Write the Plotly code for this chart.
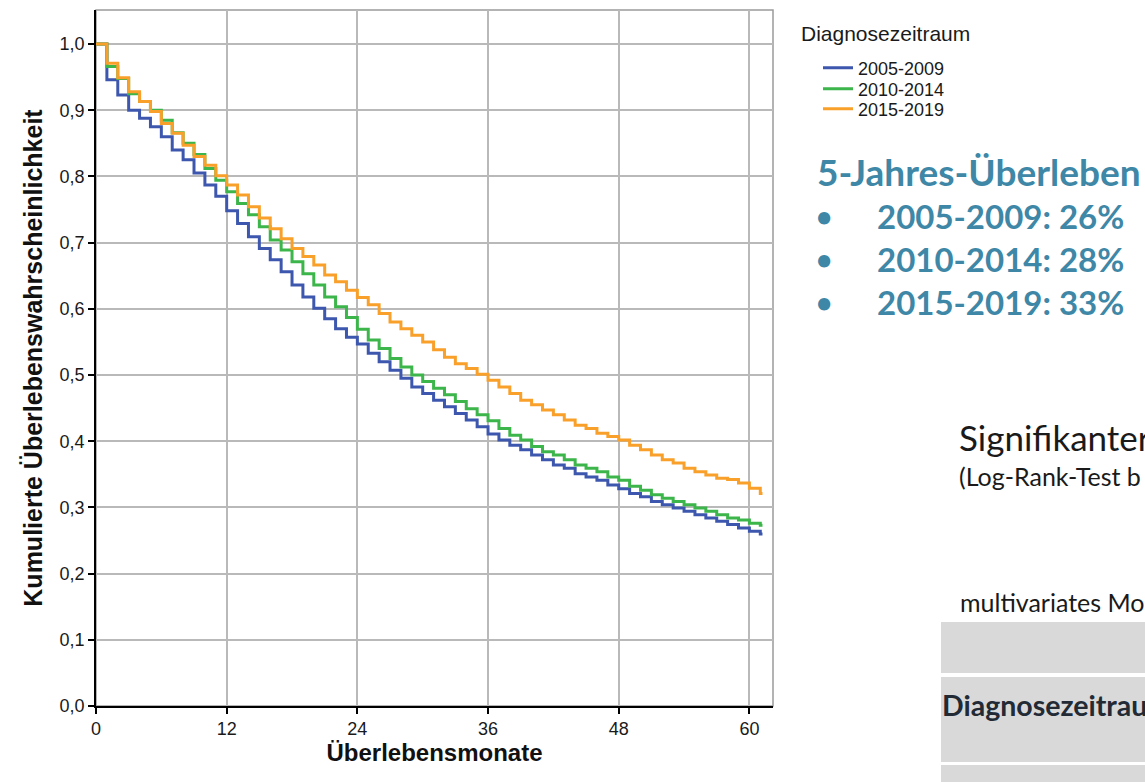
import plotly.graph_objects as go

# ---------------- data ----------------
months = list(range(62))
end_month = 61.2

surv_2005_2009 = [1.000, 0.946, 0.923, 0.900, 0.888, 0.875, 0.860, 0.840, 0.825, 0.805,
                  0.787, 0.770, 0.748, 0.729, 0.709, 0.691, 0.674, 0.656, 0.636, 0.618,
                  0.601, 0.585, 0.570, 0.557, 0.547, 0.533, 0.520, 0.507, 0.495, 0.482,
                  0.472, 0.462, 0.452, 0.442, 0.432, 0.422, 0.411, 0.402, 0.394, 0.387,
                  0.379, 0.372, 0.364, 0.359, 0.351, 0.346, 0.341, 0.334, 0.328, 0.321,
                  0.316, 0.309, 0.304, 0.299, 0.294, 0.289, 0.284, 0.279, 0.274, 0.269,
                  0.264, 0.260]
surv_2010_2014 = [1.000, 0.966, 0.948, 0.925, 0.913, 0.900, 0.885, 0.866, 0.850, 0.833,
                  0.812, 0.794, 0.777, 0.759, 0.742, 0.724, 0.704, 0.689, 0.671, 0.653,
                  0.636, 0.618, 0.603, 0.587, 0.569, 0.553, 0.540, 0.525, 0.512, 0.500,
                  0.490, 0.480, 0.470, 0.460, 0.449, 0.440, 0.431, 0.419, 0.409, 0.402,
                  0.392, 0.384, 0.379, 0.372, 0.364, 0.359, 0.354, 0.346, 0.341, 0.332,
                  0.326, 0.319, 0.314, 0.309, 0.304, 0.299, 0.294, 0.289, 0.284, 0.281,
                  0.276, 0.273]
surv_2015_2019 = [1.000, 0.971, 0.949, 0.928, 0.913, 0.898, 0.880, 0.865, 0.847, 0.830,
                  0.817, 0.801, 0.787, 0.772, 0.754, 0.737, 0.721, 0.706, 0.691, 0.679,
                  0.666, 0.651, 0.641, 0.628, 0.617, 0.606, 0.593, 0.580, 0.570, 0.560,
                  0.550, 0.538, 0.527, 0.517, 0.510, 0.501, 0.492, 0.482, 0.472, 0.462,
                  0.455, 0.447, 0.440, 0.432, 0.424, 0.419, 0.412, 0.407, 0.402, 0.394,
                  0.387, 0.379, 0.372, 0.367, 0.359, 0.354, 0.349, 0.344, 0.342, 0.337,
                  0.329, 0.321]

series_names = ["2005-2009", "2010-2014", "2015-2019"]
series_values = [surv_2005_2009, surv_2010_2014, surv_2015_2019]
series_colors = ["#3D57AE", "#3CB54A", "#F9A02A"]

x_ticks = [0, 12, 24, 36, 48, 60]
y_ticks = [0.0, 0.1, 0.2, 0.3, 0.4, 0.5, 0.6, 0.7, 0.8, 0.9, 1.0]

legend_title = "Diagnosezeitraum"
five_year_title = "5-Jahres-Überleben"
five_year_items = ["2005-2009: 26%", "2010-2014: 28%", "2015-2019: 33%"]

# ---------------- layout geometry ----------------
W_FIG, H_FIG = 1145, 782
L, R_EDGE, T, B_EDGE = 96, 773, 10, 706
PW, PH = R_EDGE - L, B_EDGE - T


def px(x):
    return (x - L) / PW


def py(y):
    return (B_EDGE - y) / PH


SANS = "Liberation Sans, Arial, sans-serif"
SLIDE = "Lato, Open Sans, sans-serif"

fig = go.Figure()
legend_ids = ["legend", "legend2", "legend3"]
for name, vals, col, lid in zip(series_names, series_values, series_colors, legend_ids):
    fig.add_trace(go.Scatter(
        x=months + [end_month], y=vals + [vals[-1]],
        mode="lines", line=dict(color=col, width=3, shape="hv"),
        name=name, legend=lid, hoverinfo="skip"))

legend_rows = [68, 89, 109]
legend_common = dict(x=px(818), xanchor="left", yanchor="middle",
                     bgcolor="rgba(0,0,0,0)", borderwidth=0,
                     font=dict(family=SANS, size=18, color="#1a1a1a"),
                     itemwidth=30)

fig.update_layout(
    width=W_FIG, height=H_FIG,
    margin=dict(l=L, r=W_FIG - R_EDGE, t=T, b=H_FIG - B_EDGE, pad=0),
    paper_bgcolor="white", plot_bgcolor="white",
    separators=", ",
    showlegend=True,
    legend=dict(y=py(legend_rows[0]), **legend_common),
    legend2=dict(y=py(legend_rows[1]), **legend_common),
    legend3=dict(y=py(legend_rows[2]), **legend_common),
    xaxis=dict(range=[0, PW / (10.89)], tickmode="array", tickvals=x_ticks,
               showgrid=True, gridcolor="#b9b9b9", gridwidth=1.5,
               zeroline=False, showline=True, linecolor="black", linewidth=1.5,
               ticks="outside", ticklen=6, tickwidth=1.5, tickcolor="black",
               tickfont=dict(family=SANS, size=18, color="#1a1a1a"),
               title=dict(text="Überlebensmonate", standoff=6,
                          font=dict(family=SANS, size=24, color="#111", weight="bold"))),
    yaxis=dict(range=[0, PH / 662], tickmode="array", tickvals=y_ticks, tickformat=".1f",
               showgrid=True, gridcolor="#b9b9b9", gridwidth=1.5,
               zeroline=False, showline=True, linecolor="black", linewidth=1.5,
               ticks="outside", ticklen=6, tickwidth=1.5, tickcolor="black",
               tickfont=dict(family=SANS, size=18, color="#1a1a1a"),
               title=dict(text="Kumulierte Überlebenswahrscheinlichkeit", standoff=10,
                          font=dict(family=SANS, size=25, color="#111", weight="bold"))),
)

# plot frame (top/right in gray)
fig.add_shape(type="rect", xref="paper", yref="paper", x0=0, y0=0, x1=1, y1=1,
              line=dict(color="#9a9a9a", width=1.5), layer="below")

# table-like grey blocks on the right
for y0, y1 in [(622, 673), (677, 762), (765, 790)]:
    fig.add_shape(type="rect", xref="paper", yref="paper",
                  x0=px(941), x1=px(1160), y0=py(y1), y1=py(y0),
                  line=dict(width=0), fillcolor="#d9d9d9", layer="below")

ann = []
ann.append(dict(text=legend_title, x=px(799), y=py(33), xanchor="left", yanchor="middle",
                font=dict(family=SANS, size=21, color="#1a1a1a")))
ann.append(dict(text=five_year_title, x=px(815), y=py(172), xanchor="left", yanchor="middle",
                font=dict(family=SLIDE, size=37, color="#3E87A6", weight="bold")))
for i, item in enumerate(five_year_items):
    yy = [216, 259, 302][i]
    ann.append(dict(text="•", x=px(814), y=py(yy), xanchor="left", yanchor="middle",
                    font=dict(family=SLIDE, size=28, color="#3E87A6", weight="bold")))
    ann.append(dict(text=item, x=px(875), y=py(yy), xanchor="left", yanchor="middle",
                    font=dict(family=SLIDE, size=33, color="#3E87A6", weight="bold")))
ann.append(dict(text="Signifikanter", x=px(957), y=py(437), xanchor="left", yanchor="middle",
                font=dict(family=SLIDE, size=35, color="#1a1a1a")))
ann.append(dict(text="(Log-Rank-Test b", x=px(957), y=py(476), xanchor="left", yanchor="middle",
                font=dict(family=SLIDE, size=25, color="#1a1a1a")))
ann.append(dict(text="multivariates Mo", x=px(958), y=py(602), xanchor="left", yanchor="middle",
                font=dict(family=SLIDE, size=25, color="#1a1a1a")))
ann.append(dict(text="Diagnosezeitrau", x=px(940), y=py(705), xanchor="left", yanchor="middle",
                font=dict(family=SLIDE, size=28.5, color="#222a35", weight="bold")))
for a in ann:
    a.update(xref="paper", yref="paper", showarrow=False)
fig.update_layout(annotations=ann)

fig.write_html("out.html")
